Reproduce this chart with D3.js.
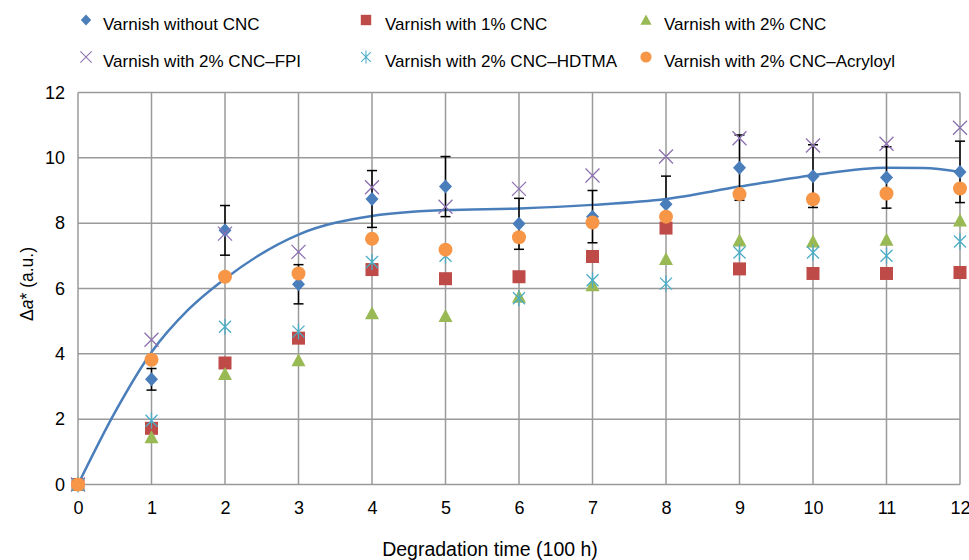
<!DOCTYPE html>
<html>
<head>
<meta charset="utf-8">
<script src="https://cdn.jsdelivr.net/npm/d3@7"></script>
<style>
  body { margin: 0; background: #fff; }
  text { font-family: "Liberation Sans", Arial, sans-serif; fill: #000; }
</style>
</head>
<body>
<script>
var w = 969, h = 560;
var margin = {top: 92.5, right: 9, bottom: 75.5, left: 78};
var innerW = w - margin.left - margin.right,
    innerH = h - margin.top - margin.bottom;

// degradation time (100 h)
var times = [0, 1, 2, 3, 4, 5, 6, 7, 8, 9, 10, 11, 12];
var xTicks = [0, 1, 2, 3, 4, 5, 6, 7, 8, 9, 10, 11, 12];
var yTicks = [0, 2, 4, 6, 8, 10, 12];

var withoutCNC = [0, 3.22, 7.78, 6.13, 8.74, 9.12, 7.98, 8.2, 8.58, 9.7, 9.44, 9.4, 9.57];
var withoutErr = [0, 0.33, 0.76, 0.6, 0.87, 0.92, 0.78, 0.8, 0.86, 1.0, 0.96, 0.94, 0.94];
var cnc1 = [0, 1.72, 3.72, 4.48, 6.58, 6.3, 6.36, 6.98, 7.85, 6.6, 6.46, 6.46, 6.49];
var cnc2 = [0, 1.45, 3.38, 3.8, 5.24, 5.16, 5.75, 6.1, 6.9, 7.47, 7.44, 7.49, 8.08];
var cncFPI = [0, 4.43, 7.68, 7.12, 9.1, 8.5, 9.05, 9.46, 10.04, 10.6, 10.38, 10.43, 10.92];
var cncHDTMA = [0, 1.95, 4.83, 4.68, 6.81, 7.0, 5.7, 6.25, 6.15, 7.1, 7.1, 7.0, 7.44];
var cncAcryloyl = [0, 3.82, 6.36, 6.46, 7.52, 7.19, 7.57, 8.02, 8.2, 8.89, 8.73, 8.91, 9.06];

// trend line of "Varnish without CNC"
var trendX = [0, 0.5, 1, 1.5, 2, 3, 4, 5, 6, 7, 8, 9, 10, 11, 11.5, 12];
var trendY = [0, 2.2, 4.05, 5.35, 6.3, 7.65, 8.22, 8.4, 8.45, 8.56, 8.74, 9.12, 9.47, 9.7, 9.69, 9.57];

var seriesNames = ['Varnish without CNC', 'Varnish with 1% CNC', 'Varnish with 2% CNC',
  'Varnish with 2% CNC\u2013FPI', 'Varnish with 2% CNC\u2013HDTMA', 'Varnish with 2% CNC\u2013Acryloyl'];
var seriesValues = [withoutCNC, cnc1, cnc2, cncFPI, cncHDTMA, cncAcryloyl];
var seriesColors = ['#4a7ebb', '#be4b48', '#98b954', '#8c70b0', '#4bacc6', '#f79646'];
var seriesShapes = ['diamond', 'square', 'triangle', 'x', 'star', 'circle'];

var x = d3.scaleLinear().domain([0, 12]).range([0, innerW]);
var y = d3.scaleLinear().domain([0, 12]).range([innerH, 0]);

var svg = d3.select('body').append('svg')
    .attr('width', w)
    .attr('height', h)
  .append('g')
    .attr('transform', 'translate(' + [margin.left, margin.top] + ')');

// grid
svg.append('g').selectAll('line')
  .data(yTicks).enter().append('line')
  .attr('x1', 0).attr('x2', innerW)
  .attr('y1', function(d) { return y(d); }).attr('y2', function(d) { return y(d); })
  .attr('stroke', '#9a9a9a').attr('stroke-width', 1.5);
svg.append('g').selectAll('line')
  .data(xTicks).enter().append('line')
  .attr('y1', 0).attr('y2', innerH)
  .attr('x1', function(d) { return x(d); }).attr('x2', function(d) { return x(d); })
  .attr('stroke', '#9a9a9a').attr('stroke-width', 1.5);

// axes labels
var xAxis = svg.append('g')
  .attr('transform', 'translate(0,' + innerH + ')')
  .call(d3.axisBottom(x).tickValues(xTicks).tickSize(0).tickPadding(17).tickFormat(d3.format('d')));
xAxis.select('.domain').remove();
xAxis.selectAll('text').style('font-size', '18px').style('font-family', '"Liberation Sans", Arial, sans-serif');

var yAxis = svg.append('g')
  .call(d3.axisLeft(y).tickValues(yTicks).tickSize(0).tickPadding(13).tickFormat(d3.format('d')));
yAxis.select('.domain').remove();
yAxis.selectAll('text').style('font-size', '18px').style('font-family', '"Liberation Sans", Arial, sans-serif');

svg.append('text')
  .attr('x', 490 - margin.left).attr('y', 556 - margin.top)
  .attr('text-anchor', 'middle')
  .style('font-size', '19.5px')
  .text('Degradation time (100 h)');

var yt = svg.append('text')
  .attr('transform', 'translate(' + (33 - margin.left) + ',' + (284 - margin.top) + ') rotate(-90)')
  .attr('text-anchor', 'middle')
  .style('font-size', '17.5px');
yt.append('tspan').text('\u0394');
yt.append('tspan').style('font-style', 'italic').text('a');
yt.append('tspan').text('* (a.u.)');

// trend line
var line = d3.line()
  .x(function(d, i) { return x(trendX[i]); })
  .y(function(d) { return y(d); })
  .curve(d3.curveMonotoneX);
svg.append('path')
  .datum(trendY)
  .attr('d', line)
  .attr('fill', 'none')
  .attr('stroke', '#4a7ebb')
  .attr('stroke-width', 2.5);

function drawMarker(g, shape, color, k) {
  k = k || 1;
  if (shape === 'diamond') {
    g.append('path').attr('d', 'M0,-7L6.5,0L0,7L-6.5,0Z').attr('fill', color).attr('transform', 'scale(' + k + ')');
  } else if (shape === 'square') {
    g.append('rect').attr('x', -6.5).attr('y', -6.5).attr('width', 13).attr('height', 13).attr('fill', color).attr('transform', 'scale(' + k + ')');
  } else if (shape === 'triangle') {
    g.append('path').attr('d', 'M0,-7L7,6L-7,6Z').attr('fill', color).attr('transform', 'scale(' + k + ')');
  } else if (shape === 'circle') {
    g.append('circle').attr('r', 7).attr('fill', color).attr('transform', 'scale(' + k + ')');
  } else if (shape === 'x') {
    g.append('path').attr('d', 'M-7,-7L7,7M-7,7L7,-7').attr('stroke', color).attr('stroke-width', 1.3).attr('fill', 'none').attr('transform', 'scale(' + k + ')');
  } else if (shape === 'star') {
    g.append('path').attr('d', 'M-6,-6L6,6M-6,6L6,-6M0,-8L0,8').attr('stroke', color).attr('stroke-width', 1.3).attr('fill', 'none').attr('transform', 'scale(' + k + ')');
  }
}

// series
seriesValues.forEach(function(vals, s) {
  var g = svg.append('g');
  if (s === 0) {
    var eb = g.append('g').attr('stroke', '#000').attr('stroke-width', 1.5);
    vals.forEach(function(d, i) {
      var e = withoutErr[i], cx = x(times[i]);
      if (e <= 0) return;
      eb.append('line').attr('x1', cx).attr('x2', cx).attr('y1', y(d + e)).attr('y2', y(d - e));
      eb.append('line').attr('x1', cx - 5).attr('x2', cx + 5).attr('y1', y(d + e)).attr('y2', y(d + e));
      eb.append('line').attr('x1', cx - 5).attr('x2', cx + 5).attr('y1', y(d - e)).attr('y2', y(d - e));
    });
  }
  g.selectAll('g.pt').data(vals).enter().append('g')
    .attr('transform', function(d, i) { return 'translate(' + [x(times[i]), y(d)] + ')'; })
    .each(function() { drawMarker(d3.select(this), seriesShapes[s], seriesColors[s]); });
});

// legend
var legX = [86, 366, 646], legY = [20, 57];
var leg = d3.select('svg').append('g');
seriesNames.forEach(function(name, i) {
  var lx = legX[i % 3], ly = legY[Math.floor(i / 3)];
  var g = leg.append('g').attr('transform', 'translate(' + [lx, ly] + ')');
  drawMarker(g, seriesShapes[i], seriesColors[i], 0.8);
  leg.append('text')
    .attr('x', [103, 385, 664][i % 3]).attr('y', ly + 9.5)
    .style('font-size', '17px')
    .text(name);
});
</script>
</body>
</html>
